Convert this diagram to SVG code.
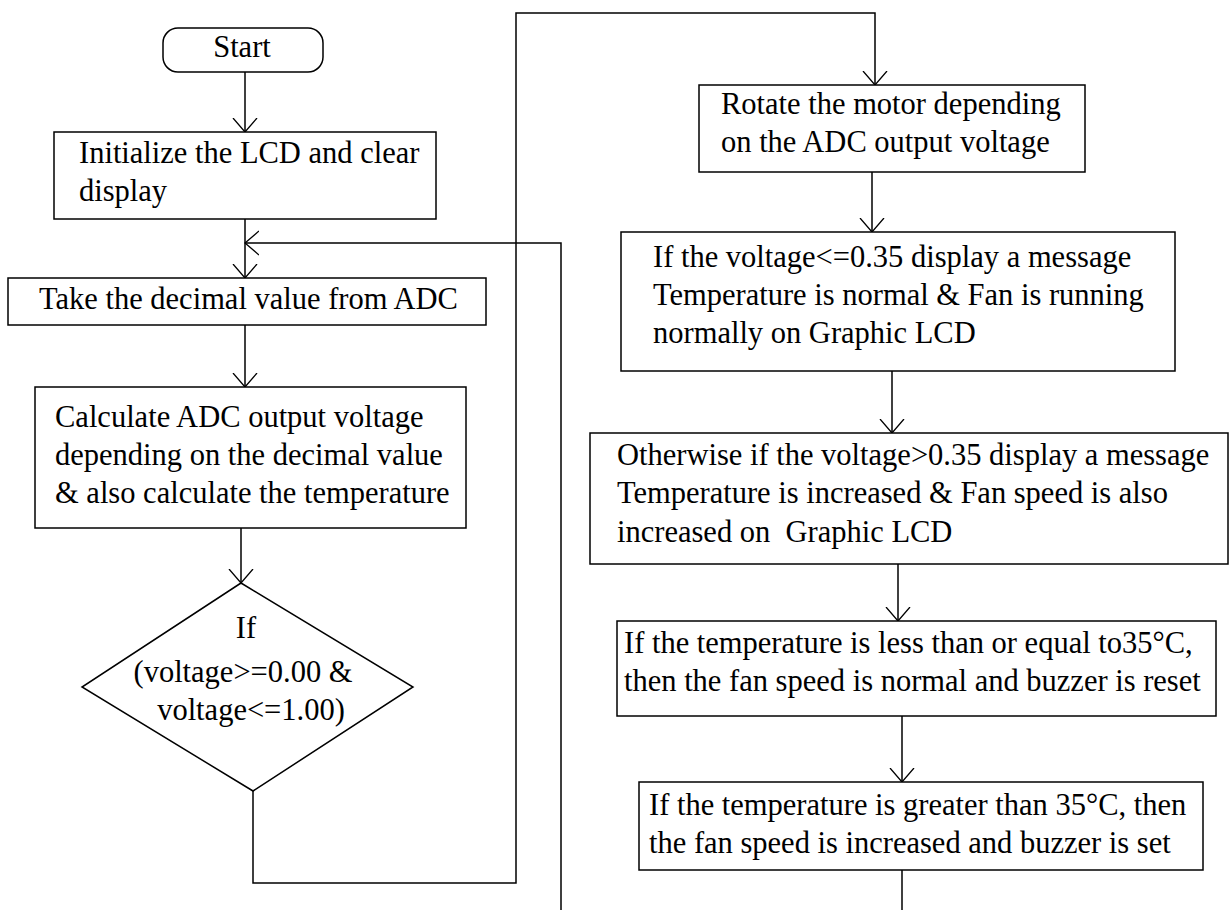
<svg xmlns="http://www.w3.org/2000/svg" width="1230" height="910" viewBox="0 0 1230 910">
<defs>
<style>
.box{fill:#fff;stroke:#000;stroke-width:1.5}
.t{font-family:"Liberation Serif","Times New Roman",serif;font-size:30.5px;fill:#000}
.c{text-anchor:middle}
.ln{fill:none;stroke:#000;stroke-width:1.5}
</style>
<marker id="arr" viewBox="0 0 15 26" refX="14" refY="13" markerWidth="15" markerHeight="26" orient="auto" markerUnits="userSpaceOnUse">
<path d="M0,1 L14,13 L0,25" fill="none" stroke="#000" stroke-width="1.3"/>
</marker>
</defs>
<rect width="1230" height="910" fill="#fff"/>
<g id="connectors">
<line class="ln" x1="245" y1="72" x2="245" y2="132" marker-end="url(#arr)"/>
<line class="ln" x1="245" y1="219" x2="245" y2="278" marker-end="url(#arr)"/>
<polyline class="ln" points="561,910 561,243 245,243" marker-end="url(#arr)"/>
<line class="ln" x1="245" y1="325" x2="245" y2="387" marker-end="url(#arr)"/>
<line class="ln" x1="241" y1="528" x2="241" y2="583" marker-end="url(#arr)"/>
<polyline class="ln" points="253,791 253,883 516,883 516,13 875,13 875,85" marker-end="url(#arr)"/>
<line class="ln" x1="872" y1="172" x2="872" y2="232" marker-end="url(#arr)"/>
<line class="ln" x1="892" y1="371" x2="892" y2="433" marker-end="url(#arr)"/>
<line class="ln" x1="898" y1="564" x2="898" y2="621" marker-end="url(#arr)"/>
<line class="ln" x1="902" y1="716" x2="902" y2="782" marker-end="url(#arr)"/>
<line class="ln" x1="902" y1="870" x2="902" y2="910"/>
</g>
<g id="start">
<rect class="box" x="163" y="28" width="160" height="44" rx="15" ry="15"/>
<text class="t c" x="242" y="57">Start</text>
</g>
<g id="init">
<rect class="box" x="54" y="132" width="382" height="87"/>
<text class="t" x="79" y="163">Initialize the LCD and clear</text>
<text class="t" x="79" y="201">display</text>
</g>
<g id="take">
<rect class="box" x="8" y="278" width="478" height="47"/>
<text class="t" x="39" y="309">Take the decimal value from ADC</text>
</g>
<g id="calc">
<rect class="box" x="35" y="387" width="431" height="141"/>
<text class="t" x="55" y="427">Calculate ADC output voltage</text>
<text class="t" x="55" y="465">depending on the decimal value</text>
<text class="t" x="55" y="503">&amp; also calculate the temperature</text>
</g>
<g id="decision">
<polygon class="box" points="241,583 413,687 253,791 82,687"/>
<text class="t c" x="246" y="638">If</text>
<text class="t c" x="243" y="682">(voltage&gt;=0.00 &amp;</text>
<text class="t c" x="251" y="720">voltage&lt;=1.00)</text>
</g>
<g id="rotate">
<rect class="box" x="699" y="85" width="386" height="87"/>
<text class="t" x="721" y="114">Rotate the motor depending</text>
<text class="t" x="721" y="152">on the ADC output voltage</text>
</g>
<g id="normal">
<rect class="box" x="621" y="232" width="554" height="139"/>
<text class="t" x="653" y="267">If the voltage&lt;=0.35 display a message</text>
<text class="t" x="653" y="305">Temperature is normal &amp; Fan is running</text>
<text class="t" x="653" y="343">normally on Graphic LCD</text>
</g>
<g id="increased">
<rect class="box" x="590" y="433" width="638" height="131"/>
<text class="t" x="617" y="465">Otherwise if the voltage&gt;0.35 display a message</text>
<text class="t" x="617" y="503">Temperature is increased &amp; Fan speed is also</text>
<text class="t" x="617" y="542" xml:space="preserve" style="white-space:pre">increased on  Graphic LCD</text>
</g>
<g id="reset">
<rect class="box" x="617" y="621" width="599" height="95"/>
<text class="t" x="624" y="653">If the temperature is less than or equal to35°C,</text>
<text class="t" x="624" y="691">then the fan speed is normal and buzzer is reset</text>
</g>
<g id="set">
<rect class="box" x="639" y="782" width="564" height="88"/>
<text class="t" x="649" y="815">If the temperature is greater than 35°C, then</text>
<text class="t" x="649" y="853">the fan speed is increased and buzzer is set</text>
</g>
</svg>
